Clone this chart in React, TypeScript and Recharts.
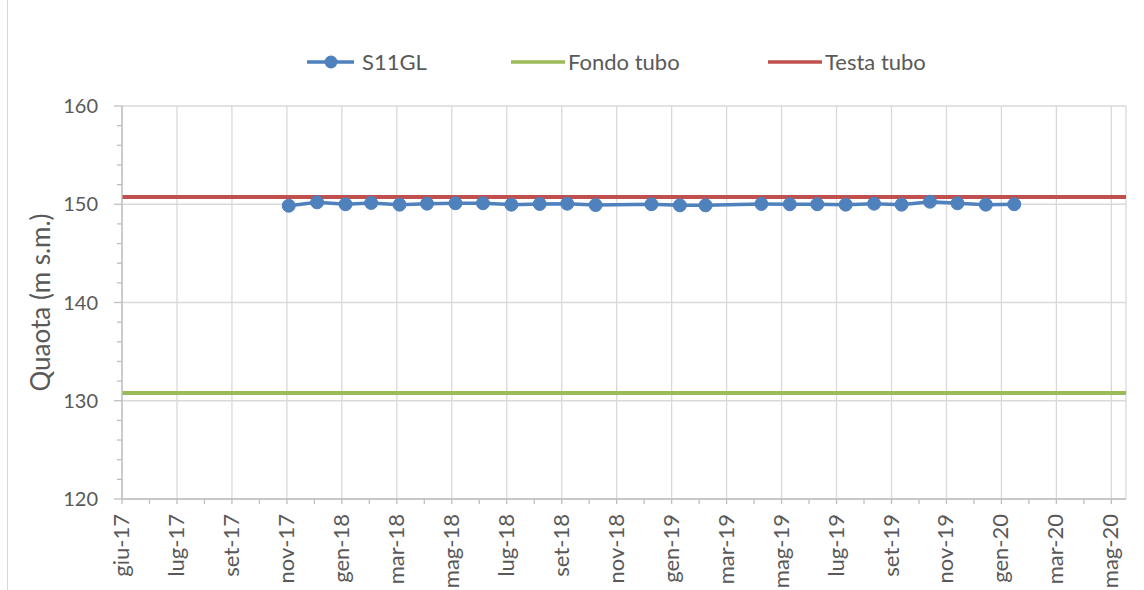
import React from 'react'
import { LineChart, Line, XAxis, YAxis, CartesianGrid, Legend, Label } from 'recharts'

// ---- data -------------------------------------------------------------

// monthly readings S11GL (m s.m.)
const DATES = [
  '2017-11-30', '2017-12-31', '2018-01-31', '2018-02-28', '2018-03-31',
  '2018-04-30', '2018-05-31', '2018-06-30', '2018-07-31', '2018-08-31',
  '2018-09-30', '2018-10-31', '2018-12-31', '2019-01-31', '2019-02-28',
  '2019-04-30', '2019-05-31', '2019-06-30', '2019-07-31', '2019-08-31',
  '2019-09-30', '2019-10-31', '2019-11-30', '2019-12-31', '2020-01-31',
]
const S11GL_VALUES = [
  149.85, 150.2, 150.0, 150.13, 149.96,
  150.06, 150.1, 150.1, 149.96, 150.03,
  150.06, 149.92, 150.0, 149.89, 149.89,
  150.03, 150.0, 150.0, 149.96, 150.06,
  149.96, 150.26, 150.1, 149.96, 150.0,
]

// reference levels span the whole axis
const RANGE_DATES = ['2017-06-01', '2020-06-01']
const FONDO_VALUES = [130.8, 130.8]
const TESTA_VALUES = [150.75, 150.75]

// excel date axis, major unit 60 days
const X_TICK_DATES = [
  '2017-06-01', '2017-07-31', '2017-09-29', '2017-11-28', '2018-01-27',
  '2018-03-28', '2018-05-27', '2018-07-26', '2018-09-24', '2018-11-23',
  '2019-01-22', '2019-03-23', '2019-05-22', '2019-07-21', '2019-09-19',
  '2019-11-18', '2020-01-17', '2020-03-17', '2020-05-16',
]
const X_TICK_LABELS = [
  'giu-17', 'lug-17', 'set-17', 'nov-17', 'gen-18',
  'mar-18', 'mag-18', 'lug-18', 'set-18', 'nov-18',
  'gen-19', 'mar-19', 'mag-19', 'lug-19', 'set-19',
  'nov-19', 'gen-20', 'mar-20', 'mag-20',
]
const Y_MAJOR = [120, 130, 140, 150, 160]
const Y_MINOR_STEP = 2

// ---- style ------------------------------------------------------------

const FONT = 'Lato, "Open Sans", sans-serif'
const TEXT = '#595959'
const GRID = '#D9D9D9'
const AXIS = '#BFBFBF'
const BLUE = '#4F81BD'
const GREEN = '#9BBB59'
const RED = '#C0504D'

// ---- helpers ----------------------------------------------------------

const toTime = (s: string) => {
  const [y, m, d] = s.split('-').map(Number)
  return Date.UTC(y, m - 1, d)
}

const s11glData = DATES.map((d, i) => ({ t: toTime(d), v: S11GL_VALUES[i] }))
const fondoData = RANGE_DATES.map((d, i) => ({ t: toTime(d), v: FONDO_VALUES[i] }))
const testaData = RANGE_DATES.map((d, i) => ({ t: toTime(d), v: TESTA_VALUES[i] }))

const X_MIN = toTime(RANGE_DATES[0])
const X_MAX = toTime(RANGE_DATES[1])
const X_MAJOR = X_TICK_DATES.map(toTime)
const X_MINOR = X_MAJOR.slice(1).map((t, i) => (t + X_MAJOR[i]) / 2)
const X_ALL = [...X_MAJOR, ...X_MINOR].sort((a, b) => a - b)

const Y_ALL: number[] = []
for (let v = Y_MAJOR[0]; v <= Y_MAJOR[Y_MAJOR.length - 1]; v += Y_MINOR_STEP) Y_ALL.push(v)

// ---- ticks ------------------------------------------------------------

function XTick({ x, y, payload }: any) {
  const i = X_MAJOR.indexOf(payload.value)
  const ty = y + 15
  return (
    <g>
      <line x1={x} x2={x} y1={y} y2={y + 5} stroke={AXIS} strokeWidth={1.3} />
      {i >= 0 && (
        <text
          x={x}
          y={ty}
          transform={`rotate(-90 ${x} ${ty})`}
          textAnchor="end"
          dy="0.32em"
          fill={TEXT}
          fontSize={22}
          fontFamily={FONT}
        >
          {X_TICK_LABELS[i]}
        </text>
      )}
    </g>
  )
}

function YTick({ x, y, payload }: any) {
  const major = Y_MAJOR.includes(payload.value)
  return (
    <g>
      <line x1={x - (major ? 8 : 5)} x2={x} y1={y} y2={y} stroke={AXIS} strokeWidth={1.3} />
      {major && (
        <text x={x - 24} y={y} dy="0.35em" textAnchor="end" fill={TEXT} fontSize={20} fontFamily={FONT}>
          {payload.value}
        </text>
      )}
    </g>
  )
}

function YTitle({ viewBox }: any) {
  const cy = viewBox ? viewBox.y + viewBox.height / 2 : 302
  return (
    <text
      x={41}
      y={cy}
      transform={`rotate(-90 41 ${cy})`}
      textAnchor="middle"
      dy="0.35em"
      fill={TEXT}
      fontSize={26}
      fontFamily={FONT}
    >
      Quaota (m s.m.)
    </text>
  )
}

function ChartLegend() {
  const ty = 15
  return (
    <svg width={1144} height={30} style={{ display: 'block' }}>
      <g fontFamily={FONT} fontSize={22} fill={TEXT}>
        <line x1={307} x2={354} y1={ty} y2={ty} stroke={BLUE} strokeWidth={3.5} />
        <circle cx={331} cy={ty} r={6.5} fill={BLUE} />
        <text x={362} y={ty} dy="0.35em">S11GL</text>

        <line x1={511} x2={565} y1={ty} y2={ty} stroke={GREEN} strokeWidth={3.5} />
        <text x={568} y={ty} dy="0.35em">Fondo tubo</text>

        <line x1={768} x2={822} y1={ty} y2={ty} stroke={RED} strokeWidth={3.5} />
        <text x={825} y={ty} dy="0.35em">Testa tubo</text>
      </g>
    </svg>
  )
}

// ---- chart ------------------------------------------------------------

export default function App() {
  return (
    <div style={{ position: 'absolute', left: 0, top: 0, width: 1144, height: 590, background: '#fff', overflow: 'hidden' }}>
      <div style={{ position: 'absolute', left: 7, top: -2, width: 1180, height: 600, borderLeft: `1px solid ${GRID}` }} />
      <LineChart width={1144} height={590} margin={{ top: 106, right: 18, bottom: 0, left: 0 }}>
        <CartesianGrid
          stroke={GRID}
          strokeWidth={1.3}
          verticalValues={[...X_MAJOR, X_MAX]}
          horizontalValues={Y_MAJOR}
        />
        <XAxis
          dataKey="t"
          type="number"
          domain={[X_MIN, X_MAX]}
          ticks={X_ALL}
          interval={0}
          tick={<XTick />}
          tickLine={false}
          tickSize={0}
          tickMargin={0}
          axisLine={{ stroke: AXIS, strokeWidth: 1.3 }}
          height={91}
          allowDataOverflow
        />
        <YAxis
          type="number"
          domain={[Y_MAJOR[0], Y_MAJOR[Y_MAJOR.length - 1]]}
          ticks={Y_ALL}
          interval={0}
          tick={<YTick />}
          tickLine={false}
          tickSize={0}
          tickMargin={0}
          axisLine={{ stroke: AXIS, strokeWidth: 1.3 }}
          width={122}
          allowDataOverflow
        >
          <Label content={<YTitle />} />
        </YAxis>
        <Legend
          layout="horizontal"
          verticalAlign="middle"
          align="center"
          content={<ChartLegend />}
          wrapperStyle={{ top: 47, left: 0, width: 1144, height: 30 }}
        />
        <Line
          data={s11glData}
          dataKey="v"
          name="S11GL"
          stroke={BLUE}
          strokeWidth={3.5}
          dot={{ r: 6.5, fill: BLUE, stroke: BLUE, strokeWidth: 1 }}
          isAnimationActive={false}
        />
        <Line
          data={fondoData}
          dataKey="v"
          name="Fondo tubo"
          stroke={GREEN}
          strokeWidth={4}
          dot={false}
          isAnimationActive={false}
        />
        <Line
          data={testaData}
          dataKey="v"
          name="Testa tubo"
          stroke={RED}
          strokeWidth={4}
          dot={false}
          isAnimationActive={false}
        />
      </LineChart>
    </div>
  )
}
